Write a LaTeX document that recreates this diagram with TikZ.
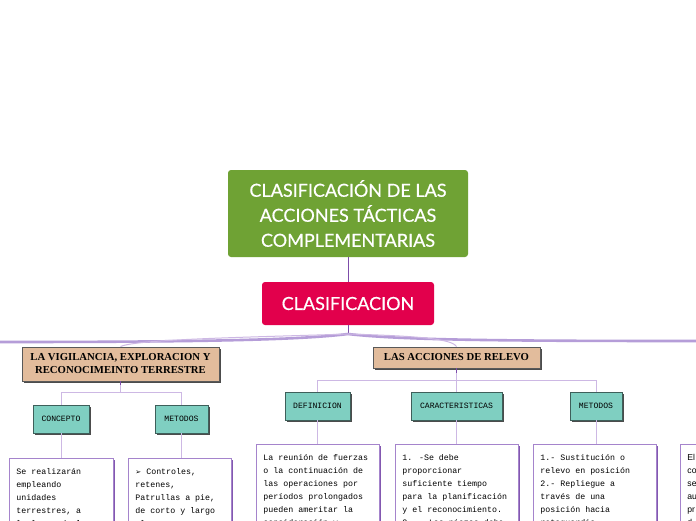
\documentclass[tikz,border=0pt]{standalone}
\usepackage{fontspec}
\setmainfont{Liberation Serif}
\newfontfamily\titlefont[FakeBold=0.5]{Lato}
\newfontfamily\monofont{Liberation Mono}
\newfontfamily\sansfont{Liberation Sans}
\newfontfamily\symfont{DejaVu Sans}
\usetikzlibrary{shadows}
\definecolor{tgreen}{HTML}{6FA234}
\definecolor{tred}{HTML}{E2004C}
\definecolor{ttan}{HTML}{E2BC9C}
\definecolor{tteal}{HTML}{7FCFC1}
\definecolor{tealborder}{HTML}{3E5F5A}
\definecolor{wborder}{HTML}{A584CC}
\definecolor{wshadow}{HTML}{8358B0}
\definecolor{mainline}{HTML}{B59DD8}
\definecolor{thinline}{HTML}{CDB8E4}
\definecolor{stemline}{HTML}{7D4DAA}
\newcommand{\boxtext}[2]{\begin{minipage}[t][100pt][t]{#1}\raggedright #2\end{minipage}}
\tikzset{
  titlebox/.style={fill=tgreen, rounded corners=3pt, text=white, align=center,
    font=\titlefont\fontsize{18}{25}\selectfont, minimum width=240pt, minimum height=87pt, inner sep=0pt},
  redbox/.style={fill=tred, rounded corners=3pt, text=white,
    font=\titlefont\fontsize{18}{20}\selectfont, minimum width=172pt, minimum height=43pt, inner sep=0pt},
  tanbox/.style={fill=ttan, draw=black!65, line width=0.8pt, align=center,
    font=\bfseries\fontsize{10.7}{13}\selectfont, inner sep=0pt,
    drop shadow={shadow xshift=1.6pt, shadow yshift=-1.6pt, fill=black!70, opacity=1}},
  tealbox/.style={fill=tteal, draw=tealborder, line width=0.8pt,
    font=\monofont\fontsize{8.1}{9}\selectfont, inner sep=0pt,
    drop shadow={shadow xshift=1.6pt, shadow yshift=-1.6pt, fill=black!70, opacity=1}},
  whitebox/.style={fill=white, draw=wborder, line width=0.9pt, anchor=north west,
    font=\monofont\fontsize{8.3}{13}\selectfont, inner xsep=7pt, inner ysep=10pt,
    drop shadow={shadow xshift=1.4pt, shadow yshift=-1.4pt, fill=wshadow, opacity=1}},
  thin/.style={draw=thinline, line width=1pt},
  stem/.style={draw=stemline, line width=1pt},
}
\begin{document}
\begin{tikzpicture}[x=1pt,y=-1pt]
\useasboundingbox (0,0) rectangle (696,520);
\fill[white] (0,0) rectangle (696,520);

\node[titlebox] (title) at (348,213.5) {CLASIFICACIÓN DE LAS\\ACCIONES TÁCTICAS\\COMPLEMENTARIAS};
\node[redbox] (clas) at (348,303.5) {CLASIFICACION};
\draw[stem] (title.south) -- (clas.north);

\coordinate (hub) at (348,334);
\coordinate (leftend) at (-2,342);
\coordinate (rightend) at (698,341);
\draw[stem] (clas.south) -- (hub);
\draw[mainline, line width=2.6pt] (hub) .. controls (300,340) and (200,342) .. (leftend);
\draw[mainline, line width=2.6pt] (hub) .. controls (400,340) and (500,341) .. (rightend);

\node[tanbox, minimum width=197pt, minimum height=34pt] (vig) at (120.5,364) {LA VIGILANCIA, EXPLORACION Y\\RECONOCIMEINTO TERRESTRE};
\node[tanbox, minimum width=167pt, minimum height=21pt] (rel) at (456.5,357.5) {LAS ACCIONES DE RELEVO};

\draw[thin] (hub) .. controls (260,337) and (135,339) .. (vig.north);
\draw[thin] (hub) .. controls (420,336) and (452,339) .. (rel.north);

\node[tealbox, minimum width=56pt, minimum height=28pt] (con) at (61,419) {CONCEPTO};
\node[tealbox, minimum width=53pt, minimum height=28pt] (met1) at (181.5,419) {METODOS};
\node[tealbox, minimum width=65pt, minimum height=28pt] (def) at (317.5,406) {DEFINICION};
\node[tealbox, minimum width=91pt, minimum height=28pt] (car) at (456.5,406) {CARACTERISTICAS};
\node[tealbox, minimum width=52pt, minimum height=28pt] (met2) at (596,406) {METODOS};

\draw[stem] (vig.south) -- ++(0,4);
\draw[thin] (vig.south) ++(0,4) -- ++(0,7) -| (con.north);
\draw[thin] (vig.south) ++(0,11) -| (met1.north);
\draw[stem] (rel.south) -- ++(0,5);
\draw[thin] (rel.south) ++(0,5) -- ++(0,7) -| (def.north);
\draw[thin] (rel.south) ++(0,12) -| (met2.north);
\draw[thin] (rel.south) ++(0,12) -- (car.north);

\node[whitebox] (w1) at (9,458) {\boxtext{90pt}{Se realizarán\\empleando\\unidades\\terrestres, a\\lo largo de la}};
\node[whitebox] (w2) at (128,458) {\boxtext{89pt}{{\symfont\fontsize{7}{13}\selectfont ➢} Controles,\\retenes,\\Patrullas a pie,\\de corto y largo\\alcance}};
\node[whitebox] (w3) at (256,444) {\boxtext{109pt}{La reunión de fuerzas\\o la continuación de\\las operaciones por\\períodos prolongados\\pueden ameritar la\\consideración y}};
\node[whitebox] (w4) at (395,444) {\boxtext{109pt}{1. -Se debe\\proporcionar\\suficiente tiempo\\para la planificación\\y el reconocimiento.\\2. - Las piezas debe}};
\node[whitebox] (w5) at (533,444) {\boxtext{109pt}{1.- Sustitución o\\relevo en posición\\2.- Repliegue a\\través de una\\posición hacia\\retaguardia}};
\node[whitebox, font=\sansfont\fontsize{8.6}{13}\selectfont] (w6) at (680,444) {\boxtext{109pt}{El\\co\\se\\au\\pr\\d}};

\draw[thin] (con.south) -- (w1.north -| con.south);
\draw[thin] (met1.south) -- (w2.north -| met1.south);
\draw[thin] (def.south) -- (w3.north -| def.south);
\draw[thin] (car.south) -- (w4.north -| car.south);
\draw[thin] (met2.south) -- (w5.north -| met2.south);
\end{tikzpicture}
\end{document}
